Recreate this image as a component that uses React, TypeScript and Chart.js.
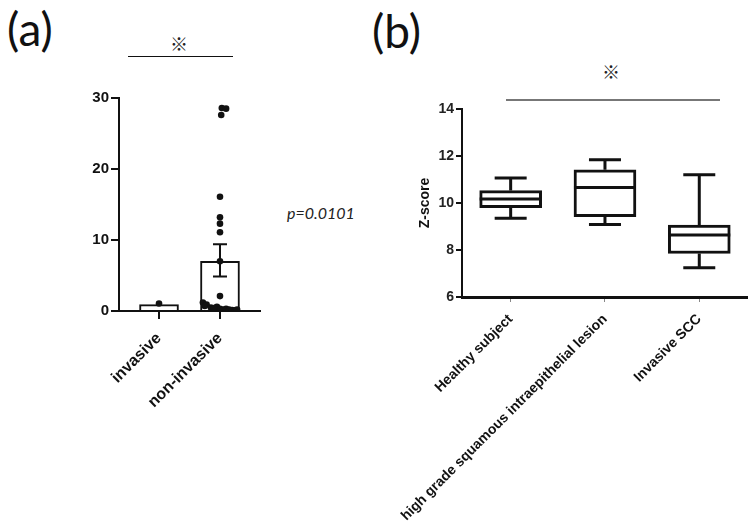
import React, { useEffect, useRef } from "react";
import { Chart, registerables } from "chart.js";
Chart.register(...registerables);

// ---------- Panel (a) data ----------
const groupsA = ["invasive", "non-invasive"];
const meanA = [0.9, 7.0];
const errUpperA = [null, 9.4];
const errLowerA = [null, 4.85];
const pointGroupA = [0, 1, 1, 1, 1, 1, 1, 1, 1, 1, 1, 1, 1, 1, 1, 1, 1, 1, 1, 1, 1, 1, 1, 1];
const pointValueA = [1.05, 28.6, 28.5, 27.6, 16.1, 13.2, 12.3, 11.1, 7.0, 2.1, 1.2, 0.9, 0.7, 0.5, 0.4, 0.6, 0.3, 0.2, 0.3, 0.2, 0.15, 0.1, 0.2, 0.4];
const pointJitterA = [0, 0.03, 0.1, 0.02, 0, 0, 0, 0, 0, 0, -0.28, -0.22, -0.25, -0.15, -0.08, -0.05, 0.0, 0.05, 0.1, 0.15, 0.2, 0.25, 0.28, -0.1];
const yTicksA = [0, 10, 20, 30];

// ---------- Panel (b) data ----------
const groupsB = ["Healthy subject", "high grade squamous intraepithelial lesion", "Invasive SCC"];
const whiskerLowB = [9.35, 9.09, 7.24];
const q1B = [9.8, 9.42, 7.85];
const medianB = [10.17, 10.66, 8.64];
const q3B = [10.53, 11.41, 9.06];
const whiskerHighB = [11.06, 11.84, 11.2];
const yTicksB = [6, 8, 10, 12, 14];

const AX = "#111";
const FONT = "'Liberation Sans', Arial, sans-serif";

const errorBarPlugin = {
  id: "errorBars",
  afterDatasetsDraw(chart: any) {
    const { ctx, scales } = chart;
    const xs = scales.x, ys = scales.y;
    ctx.save();
    ctx.strokeStyle = AX;
    ctx.lineWidth = 2;
    for (let i = 0; i < groupsA.length; i++) {
      const hi = errUpperA[i], lo = errLowerA[i];
      if (hi == null || lo == null) continue;
      const x = xs.getPixelForValue(i);
      const yh = ys.getPixelForValue(hi), yl = ys.getPixelForValue(lo);
      ctx.beginPath();
      ctx.moveTo(x, yh); ctx.lineTo(x, yl);
      ctx.moveTo(x - 7, yh); ctx.lineTo(x + 7, yh);
      ctx.moveTo(x - 7, yl); ctx.lineTo(x + 7, yl);
      ctx.stroke();
    }
    ctx.restore();
  },
};

const boxPlugin = {
  id: "boxWhiskers",
  afterDatasetsDraw(chart: any) {
    const { ctx, scales } = chart;
    const xs = scales.x, ys = scales.y;
    ctx.save();
    ctx.strokeStyle = AX;
    ctx.lineWidth = 3;
    ctx.lineCap = "butt";
    for (let i = 0; i < groupsB.length; i++) {
      const x = xs.getPixelForValue(i);
      const cap = 16, half = 31;
      const yMin = ys.getPixelForValue(whiskerLowB[i]);
      const yMax = ys.getPixelForValue(whiskerHighB[i]);
      const yQ1 = ys.getPixelForValue(q1B[i]);
      const yQ3 = ys.getPixelForValue(q3B[i]);
      const yMed = ys.getPixelForValue(medianB[i]);
      ctx.beginPath();
      ctx.moveTo(x, yQ3); ctx.lineTo(x, yMax);
      ctx.moveTo(x - cap, yMax); ctx.lineTo(x + cap, yMax);
      ctx.moveTo(x, yQ1); ctx.lineTo(x, yMin);
      ctx.moveTo(x - cap, yMin); ctx.lineTo(x + cap, yMin);
      ctx.moveTo(x - half, yMed); ctx.lineTo(x + half, yMed);
      ctx.stroke();
    }
    ctx.restore();
  },
};

function ChartA() {
  const ref = useRef<HTMLCanvasElement>(null);
  useEffect(() => {
    const chart = new Chart(ref.current!, {
      type: "bar",
      data: {
        datasets: [
          {
            type: "bar",
            data: groupsA.map((_, i) => ({ x: i, y: meanA[i] })) as any,
            backgroundColor: "#fff",
            borderColor: AX,
            borderWidth: 2,
            barThickness: 39,
            order: 2,
          } as any,
          {
            type: "scatter",
            data: pointValueA.map((v, i) => ({ x: pointGroupA[i] + pointJitterA[i], y: v })),
            backgroundColor: AX,
            borderColor: AX,
            pointRadius: 3.3,
            borderWidth: 0,
            order: 1,
          } as any,
        ],
      },
      options: {
        animation: false,
        responsive: false,
        events: [],
        layout: { padding: { top: 18, right: 20, left: 0, bottom: 0 } },
        plugins: { legend: { display: false }, tooltip: { enabled: false } },
        scales: {
          x: {
            type: "linear",
            min: -0.656,
            max: 1.656,
            offset: false,
            afterBuildTicks: (s: any) => { s.ticks = groupsA.map((_, i) => ({ value: i })); },
            afterFit: (s: any) => { s.height = 129; },
            ticks: {
              callback: (v: any) => groupsA[v] ?? "",
              minRotation: 45,
              maxRotation: 45,
              autoSkip: false,
              padding: 10,
              color: AX,
              font: { family: FONT, size: 16, weight: "bold" },
            },
            grid: { offset: false, drawOnChartArea: false, drawTicks: true, tickLength: 8, color: AX, lineWidth: 2 },
            border: { display: true, color: AX, width: 2 },
          },
          y: {
            min: 0,
            max: 30,
            afterBuildTicks: (s: any) => { s.ticks = yTicksA.map((v) => ({ value: v })); },
            afterFit: (s: any) => { s.width = 89; },
            ticks: { color: AX, padding: 2, font: { family: FONT, size: 15, weight: "bold" } },
            grid: { drawOnChartArea: false, drawTicks: true, tickLength: 8, color: AX, lineWidth: 2 },
            border: { display: true, color: AX, width: 2 },
          },
        },
      } as any,
      plugins: [errorBarPlugin],
    });
    return () => chart.destroy();
  }, []);
  return <canvas ref={ref} width={250} height={360} style={{ position: "absolute", left: 30, top: 80, width: 250, height: 360 }} />;
}

function ChartB() {
  const ref = useRef<HTMLCanvasElement>(null);
  useEffect(() => {
    const chart = new Chart(ref.current!, {
      type: "bar",
      data: {
        datasets: [
          {
            type: "bar",
            data: groupsB.map((_, i) => ({ x: i, y: [q1B[i], q3B[i]] })) as any,
            backgroundColor: "#fff",
            borderColor: AX,
            borderWidth: 3,
            borderSkipped: false,
            barThickness: 62,
          } as any,
        ],
      },
      options: {
        animation: false,
        responsive: false,
        events: [],
        layout: { padding: { top: 19, right: 8, left: 0, bottom: 0 } },
        plugins: { legend: { display: false }, tooltip: { enabled: false } },
        scales: {
          x: {
            type: "linear",
            min: -0.516,
            max: 2.506,
            offset: false,
            afterBuildTicks: (s: any) => { s.ticks = groupsB.map((_, i) => ({ value: i })); },
            afterFit: (s: any) => { s.height = 231; },
            ticks: {
              callback: (v: any) => groupsB[v] ?? "",
              minRotation: 45,
              maxRotation: 45,
              autoSkip: false,
              padding: 9,
              color: AX,
              font: { family: FONT, size: 14, weight: "bold" },
            },
            grid: { offset: false, drawOnChartArea: false, drawTicks: true, tickLength: 5, color: "#888", lineWidth: 1 },
            border: { display: true, color: AX, width: 3 },
          },
          y: {
            min: 6,
            max: 14,
            afterBuildTicks: (s: any) => { s.ticks = yTicksB.map((v) => ({ value: v })); },
            afterFit: (s: any) => { s.width = 82; },
            ticks: { color: "#222", padding: 2, font: { family: FONT, size: 14, weight: "bold" } },
            grid: { drawOnChartArea: false, drawTicks: true, tickLength: 6, color: AX, lineWidth: 2 },
            border: { display: true, color: AX, width: 2 },
            title: {
              display: true,
              text: "Z-score",
              color: AX,
              font: { family: FONT, size: 14, weight: "bold" },
              padding: { top: 37, bottom: 0 },
            },
          },
        },
      } as any,
      plugins: [boxPlugin],
    });
    return () => chart.destroy();
  }, []);
  return <canvas ref={ref} width={375} height={438} style={{ position: "absolute", left: 380, top: 90, width: 375, height: 438 }} />;
}

const panelLabel: React.CSSProperties = {
  position: "absolute",
  fontFamily: "Lato, 'Open Sans', sans-serif",
  fontSize: 46,
  lineHeight: "46px",
  color: "#111",
  whiteSpace: "nowrap",
};
const mark: React.CSSProperties = {
  position: "absolute",
  fontFamily: "'Noto Sans CJK JP', sans-serif",
  fontSize: 18,
  lineHeight: "18px",
  color: "#222",
  width: 30,
  textAlign: "center",
};

export default function App() {
  return (
    <div style={{ position: "absolute", left: 0, top: 0, width: 755, height: 528, background: "#fff", overflow: "hidden" }}>
      <div style={{ ...panelLabel, left: 7, top: 6 }}>(a)</div>
      <div style={{ ...panelLabel, left: 372, top: 8 }}>(b)</div>
      <div style={{ ...mark, left: 164, top: 34 }}>※</div>
      <div style={{ position: "absolute", left: 128, top: 56, width: 105, height: 1, background: "#111" }} />
      <div style={{ ...mark, left: 596, top: 62 }}>※</div>
      <div style={{ position: "absolute", left: 506, top: 99, width: 214, height: 2, background: "#777" }} />
      <div style={{ position: "absolute", left: 287, top: 203, fontFamily: "Lato, sans-serif", fontStyle: "italic", fontSize: 16, color: "#222" }}>p=0.0101</div>
      <ChartA />
      <ChartB />
    </div>
  );
}
